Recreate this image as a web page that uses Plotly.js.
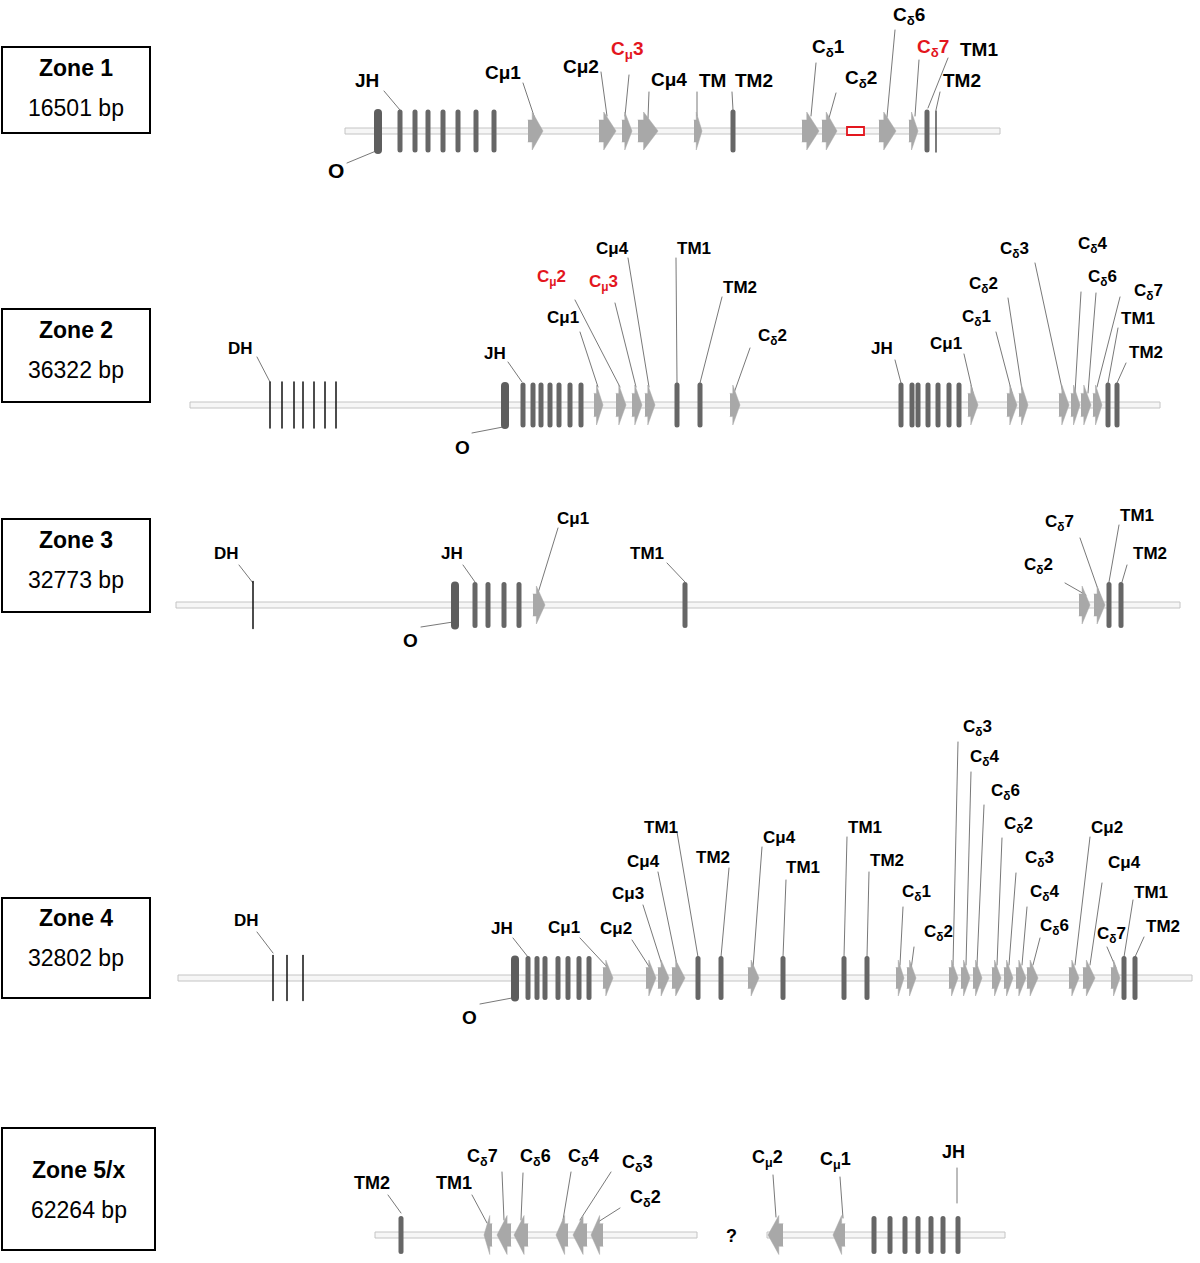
<!DOCTYPE html>
<html>
<head>
<meta charset="utf-8">
<script src="https://cdn.plot.ly/plotly-3.0.1.min.js"></script>
<style>
  html, body { margin: 0; padding: 0; background: #fff; }
  #chart .scatterlayer path.js-line { stroke-linecap: round; }
</style>
</head>
<body>
<div id="chart" style="width:1200px;height:1263px;"></div>
<script>
// ---------------- DATA ----------------
// Zone titles and sizes
const zoneNames   = ['Zone 1', 'Zone 2', 'Zone 3', 'Zone 4', 'Zone 5/x'];
const zoneLengths = ['16501 bp', '36322 bp', '32773 bp', '32802 bp', '62264 bp'];

// Backbone extents per zone (genomic span in drawing units)
const backbones = [
  [[345, 1000]],
  [[190, 1160]],
  [[176, 1180]],
  [[178, 1192]],
  [[375, 697], [767, 1005]]
];

// DH segments (thin lines)
const dhPos = [[], [270, 282, 294, 303, 314, 325, 336], [253], [273, 287, 303], []];
// Origin exon (O)
const originPos = [378, 505, 455, 515, null];
// JH segments
const jhPos = [
  [400, 415, 428, 443, 458, 476, 494],
  [523, 533, 541, 550, 559, 570, 581, 901, 912, 918, 928, 938, 949, 959],
  [475, 488, 504, 519],
  [528, 537, 545, 558, 568, 579, 589],
  [874, 890, 905, 918, 931, 943, 958]
];
// Transmembrane exons (TM)
const tmPos = [
  [733, 927],
  [677, 700, 1108, 1117],
  [685, 1109, 1121],
  [698, 721, 783, 844, 867, 1124, 1135],
  [401]
];
// Very thin TM exon (zone 1)
const thinTmPos = [[936], [], [], [], []];
// Constant-region exons, forward strand [start, end]
const fwdExons = [
  [[528,543],[599,616],[622,632],[638,658],[694,702],[802,819],[822,837],[879,896],[909,918]],
  [[594,603],[616,626],[632,642],[645,655],[730,740],[968,978],[1007,1017],[1019,1028],[1059,1069],[1071,1080],[1081,1091],[1093,1102]],
  [[533,545],[1079,1090],[1094,1105]],
  [[603,613],[646,656],[658,669],[672,685],[748,759],[896,904],[907,916],[949,958],[961,970],[973,982],[992,1001],[1004,1013],[1016,1026],[1027,1038],[1069,1079],[1083,1095],[1111,1120]],
  []
];
// Constant-region exons, reverse strand [start, end]
const revExons = [
  [], [], [], [],
  [[484,492],[497,511],[514,528],[556,568],[573,587],[591,603],[768,783],[833,845]]
];
// Missing exon (empty red box), zone 1
const missingExon = [[847, 864]];

// Labels: [text, labelX, labelY, leaderStartX, leaderStartY, leaderEndX, leaderEndY, highlighted]
const labelsZ1 = [
  ['JH', 367, 80, 384, 91, 400, 110, 0],
  ['O', 336, 170, 347, 163, 376, 151, 0],
  ['Cμ1', 503, 72, 523, 83, 536, 122, 0],
  ['Cμ2', 581, 66, 601, 72, 607, 116, 0],
  ['C<sub>μ</sub>3', 627, 50, 629, 75, 625, 116, 1],
  ['Cμ4', 669, 79, 649, 92, 648, 118, 0],
  ['TM', 712, 80, 697, 92, 697, 116, 0],
  ['TM2', 754, 80, 732, 92, 733, 110, 0],
  ['C<sub>δ</sub>1', 828, 48, 816, 63, 811, 116, 0],
  ['C<sub>δ</sub>2', 861, 79, 836, 93, 829, 118, 0],
  ['C<sub>δ</sub>6', 909, 16, 895, 30, 887, 117, 0],
  ['C<sub>δ</sub>7', 933, 48, 919, 60, 915, 116, 1],
  ['TM1', 979, 49, 948, 58, 928, 108, 0],
  ['TM2', 962, 80, 940, 92, 936, 110, 0]
];
const labelsZ2 = [
  ['DH', 240, 348, 257, 357, 270, 382, 0],
  ['O', 462, 447, 472, 433, 503, 427, 0],
  ['JH', 495, 353, 508, 362, 522, 382, 0],
  ['Cμ1', 563, 317, 580, 332, 598, 387, 0],
  ['C<sub>μ</sub>2', 551, 278, 575, 300, 620, 387, 1],
  ['C<sub>μ</sub>3', 603, 283, 615, 303, 636, 387, 1],
  ['Cμ4', 612, 248, 628, 258, 649, 387, 0],
  ['TM1', 694, 248, 676, 258, 677, 383, 0],
  ['TM2', 740, 287, 722, 297, 700, 383, 0],
  ['C<sub>δ</sub>2', 772, 337, 750, 348, 734, 393, 0],
  ['JH', 882, 348, 895, 360, 901, 383, 0],
  ['Cμ1', 946, 343, 964, 354, 973, 393, 0],
  ['C<sub>δ</sub>1', 976, 318, 996, 332, 1012, 393, 0],
  ['C<sub>δ</sub>2', 983, 285, 1008, 298, 1022, 390, 0],
  ['C<sub>δ</sub>3', 1014, 250, 1035, 263, 1063, 393, 0],
  ['C<sub>δ</sub>4', 1093, 245, 1081, 292, 1075, 393, 0],
  ['C<sub>δ</sub>6', 1102, 278, 1096, 293, 1088, 393, 0],
  ['C<sub>δ</sub>7', 1148, 292, 1120, 297, 1097, 387, 0],
  ['TM1', 1138, 318, 1118, 328, 1108, 383, 0],
  ['TM2', 1146, 352, 1126, 363, 1117, 383, 0]
];
const labelsZ3 = [
  ['DH', 226, 553, 239, 565, 253, 583, 0],
  ['O', 410, 640, 421, 627, 453, 622, 0],
  ['JH', 452, 553, 463, 565, 475, 582, 0],
  ['Cμ1', 573, 518, 558, 528, 538, 593, 0],
  ['TM1', 647, 553, 667, 563, 685, 582, 0],
  ['C<sub>δ</sub>2', 1038, 566, 1065, 583, 1086, 595, 0],
  ['C<sub>δ</sub>7', 1059, 523, 1080, 538, 1100, 595, 0],
  ['TM1', 1137, 515, 1119, 525, 1109, 582, 0],
  ['TM2', 1150, 553, 1127, 565, 1122, 582, 0]
];
const labelsZ4 = [
  ['DH', 246, 920, 257, 932, 273, 953, 0],
  ['O', 469, 1017, 480, 1004, 512, 998, 0],
  ['JH', 502, 928, 513, 938, 528, 957, 0],
  ['Cμ1', 564, 927, 580, 938, 608, 968, 0],
  ['Cμ2', 616, 928, 632, 940, 650, 968, 0],
  ['Cμ3', 628, 893, 643, 905, 663, 968, 0],
  ['Cμ4', 643, 861, 658, 872, 677, 965, 0],
  ['TM1', 661, 827, 677, 832, 698, 957, 0],
  ['TM2', 713, 857, 729, 868, 721, 957, 0],
  ['Cμ4', 779, 837, 762, 847, 753, 968, 0],
  ['TM1', 803, 867, 786, 880, 783, 957, 0],
  ['TM1', 865, 827, 847, 837, 844, 957, 0],
  ['TM2', 887, 860, 869, 872, 867, 957, 0],
  ['C<sub>δ</sub>1', 916, 893, 903, 907, 900, 965, 0],
  ['C<sub>δ</sub>2', 938, 933, 914, 947, 911, 970, 0],
  ['C<sub>δ</sub>3', 977, 728, 958, 742, 953, 965, 0],
  ['C<sub>δ</sub>4', 985, 758, 971, 772, 966, 965, 0],
  ['C<sub>δ</sub>6', 1005, 792, 984, 805, 977, 965, 0],
  ['C<sub>δ</sub>2', 1018, 825, 1002, 838, 997, 965, 0],
  ['C<sub>δ</sub>3', 1039, 859, 1016, 873, 1009, 965, 0],
  ['C<sub>δ</sub>4', 1045, 893, 1027, 907, 1022, 965, 0],
  ['C<sub>δ</sub>6', 1054, 927, 1040, 938, 1033, 965, 0],
  ['Cμ2', 1107, 827, 1090, 837, 1075, 965, 0],
  ['Cμ4', 1124, 862, 1102, 883, 1090, 965, 0],
  ['C<sub>δ</sub>7', 1111, 935, 1107, 947, 1116, 968, 0],
  ['TM1', 1151, 892, 1133, 900, 1124, 957, 0],
  ['TM2', 1163, 926, 1144, 937, 1135, 957, 0]
];
const labelsZ5 = [
  ['TM2', 372, 1183, 388, 1195, 401, 1213, 0],
  ['TM1', 454, 1183, 472, 1195, 487, 1223, 0],
  ['C<sub>δ</sub>7', 482, 1157, 502, 1172, 504, 1220, 0],
  ['C<sub>δ</sub>6', 535, 1157, 523, 1173, 521, 1220, 0],
  ['C<sub>δ</sub>4', 583, 1157, 571, 1172, 563, 1220, 0],
  ['C<sub>δ</sub>3', 637, 1163, 611, 1172, 580, 1220, 0],
  ['C<sub>δ</sub>2', 645, 1198, 620, 1208, 598, 1222, 0],
  ['C<sub>μ</sub>2', 767, 1158, 773, 1175, 776, 1217, 0],
  ['C<sub>μ</sub>1', 835, 1160, 840, 1177, 843, 1218, 0],
  ['JH', 953, 1152, 957, 1168, 957, 1203, 0]
];
const zoneLabels = [labelsZ1, labelsZ2, labelsZ3, labelsZ4, labelsZ5];
const gapMarks = [['?', 731, 1236]];

// ---------------- LAYOUT / STYLE ----------------
const trackY     = [131, 405, 605, 978, 1235];
const exonHalf   = [22, 23, 23.5, 22.5, 19.5];
const arrowHalf  = [19, 20, 19, 18, 19.5];
const labelSize  = [19, 17, 17, 17, 18];
const boxY       = [[47,133],[309,402],[519,612],[898,998],[1128,1250]];
const boxX       = [[2,150],[2,150],[2,150],[2,150],[2,155]];
const boxTextY   = [[68,108],[330,370],[540,580],[918,958],[1170,1210]];
const FONT = 'Liberation Sans, Arial, Helvetica, sans-serif';
const RED = '#e3161e';
const BAR = '#666666';
const ARROW = '#a8a8a8';

const shapes = [];
const annotations = [];
const leadX = [], leadY = [];
const dhX = [], dhY = [];
const barX = [], barY = [];
const oX = [], oY = [];
const thinX = [], thinY = [];
const arX = [], arY = [];

function pushSeg(ax, ay, x0, y0, x1, y1) { ax.push(x0, x1, null); ay.push(y0, y1, null); }
function addText(x, y, text, size, color, bold) {
  annotations.push({xref: 'x', yref: 'y', x: x, y: y, text: text, showarrow: false,
    font: {family: FONT, size: size, color: color, weight: bold ? 'bold' : 'normal'},
    xanchor: 'center', yanchor: 'middle'});
}

for (let z = 0; z < 5; z++) {
  const yc = trackY[z], h = exonHalf[z], ah = arrowHalf[z];
  backbones[z].forEach(b => shapes.push({
    type: 'rect', xref: 'x', yref: 'y', x0: b[0], x1: b[1], y0: yc - 3, y1: yc + 3,
    line: {color: '#c4c4c4', width: 1}, fillcolor: '#f6f6f6', layer: 'below'
  }));
  shapes.push({type: 'rect', xref: 'x', yref: 'y', x0: boxX[z][0], x1: boxX[z][1],
    y0: boxY[z][0], y1: boxY[z][1], line: {color: '#000', width: 2}, fillcolor: 'rgba(0,0,0,0)'});
  const bcx = (boxX[z][0] + boxX[z][1]) / 2;
  addText(bcx, boxTextY[z][0], zoneNames[z], 23, '#000', true);
  addText(bcx, boxTextY[z][1], zoneLengths[z], 23, '#000', false);
  dhPos[z].forEach(x => pushSeg(dhX, dhY, x, yc - h, x, yc + h));
  if (originPos[z] !== null) pushSeg(oX, oY, originPos[z], yc - h + 4, originPos[z], yc + h - 3);
  jhPos[z].concat(tmPos[z]).forEach(x => pushSeg(barX, barY, x, yc - h + 3, x, yc + h - 3));
  thinTmPos[z].forEach(x => pushSeg(thinX, thinY, x, yc - h + 2, x, yc + h - 1));
  fwdExons[z].forEach(e => {
    const [s, t] = e, w = t - s, b = s + w * 0.28, bh2 = ah * 0.58;
    arX.push(s, b, b, t, b, b, s, null);
    arY.push(yc - bh2, yc - bh2, yc - ah, yc, yc + ah, yc + bh2, yc + bh2, null);
  });
  revExons[z].forEach(e => {
    const [s, t] = e, w = t - s, b = t - w * 0.28, bh2 = ah * 0.58;
    arX.push(t, b, b, s, b, b, t, null);
    arY.push(yc - bh2, yc - bh2, yc - ah, yc, yc + ah, yc + bh2, yc + bh2, null);
  });
  zoneLabels[z].forEach(L => {
    const [txt, lx, ly, sx, sy, tx, ty, hi] = L;
    pushSeg(leadX, leadY, sx, sy, tx, ty);
    const size = txt === 'O' ? labelSize[z] + 2 : labelSize[z];
    addText(lx, ly, txt, size, hi ? RED : '#000', true);
  });
}
missingExon.forEach(m => shapes.push({type: 'rect', xref: 'x', yref: 'y', x0: m[0], x1: m[1],
  y0: trackY[0] - 4, y1: trackY[0] + 4, line: {color: RED, width: 1.8}, fillcolor: '#ffffff'}));
gapMarks.forEach(g => addText(g[1], g[2], g[0], 18, '#000', true));

const base = {type: 'scatter', mode: 'lines', hoverinfo: 'skip', showlegend: false};
const traces = [
  Object.assign({}, base, {x: leadX, y: leadY, line: {color: '#555555', width: 0.8}}),
  Object.assign({}, base, {x: arX, y: arY, fill: 'toself', fillcolor: ARROW, line: {color: ARROW, width: 0.5}}),
  Object.assign({}, base, {x: dhX, y: dhY, line: {color: '#111111', width: 1.5}}),
  Object.assign({}, base, {x: barX, y: barY, line: {color: BAR, width: 5}}),
  Object.assign({}, base, {x: oX, y: oY, line: {color: '#5e5e5e', width: 8}}),
  Object.assign({}, base, {x: thinX, y: thinY, line: {color: '#444444', width: 1.4}})
];

const layout = {
  width: 1200, height: 1263,
  margin: {l: 0, r: 0, t: 0, b: 0},
  paper_bgcolor: '#ffffff', plot_bgcolor: '#ffffff',
  xaxis: {range: [0, 1200], visible: false, fixedrange: true},
  yaxis: {range: [1263, 0], visible: false, fixedrange: true},
  shapes: shapes, annotations: annotations, showlegend: false
};
Plotly.newPlot('chart', traces, layout, {staticPlot: true, displayModeBar: false});
</script>
</body>
</html>
